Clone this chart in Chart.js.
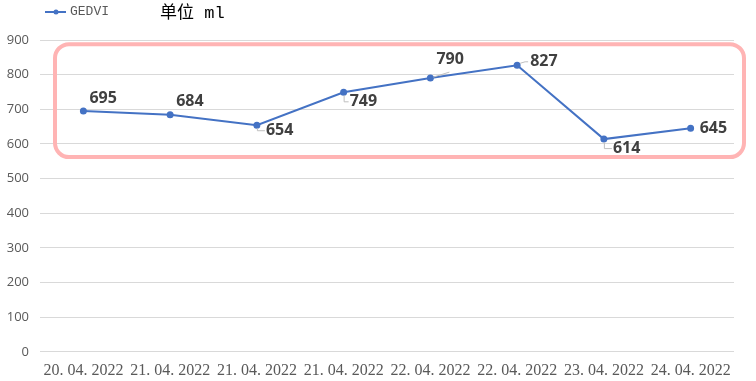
<!DOCTYPE html>
<html lang="zh">
<head>
  <meta charset="UTF-8">
  <title>GEDVI</title>
  <style>
    html, body { margin: 0; padding: 0; background: #fff; }
    #wrap { width: 756px; height: 381px; }
  </style>
  <script src="https://cdn.jsdelivr.net/npm/chart.js"></script>
</head>
<body>
  <div id="wrap"><canvas id="lineGedvi" width="756" height="381"></canvas></div>

  <script>
    // data
    const dates = ["20. 04. 2022", "21. 04. 2022", "21. 04. 2022", "21. 04. 2022",
                   "22. 04. 2022", "22. 04. 2022", "23. 04. 2022", "24. 04. 2022"];
    const gedvi = [695, 684, 654, 749, 790, 827, 614, 645];
    const yTicks = [0, 100, 200, 300, 400, 500, 600, 700, 800, 900];
    const seriesName = "GEDVI";
    const unitTitle = "单位 ml";

    const blue = "#4472c4";

    // label offsets from the point; lead = leader line style
    const labelPos = [
      { dx: 6,  dy: -13, lead: null },
      { dx: 6,  dy: -13, lead: null },
      { dx: 9,  dy: 5,   lead: "L" },
      { dx: 6,  dy: 9,   lead: "L" },
      { dx: 6,  dy: -19, lead: "diag" },
      { dx: 13, dy: -4,  lead: "up" },
      { dx: 9,  dy: 9,   lead: "L" },
      { dx: 9,  dy: 0,   lead: null }
    ];

    const extras = {
      id: "extras",
      afterDatasetsDraw(chart) {
        const ctx = chart.ctx;
        const meta = chart.getDatasetMeta(0);
        const ys = chart.scales.y;
        const area = chart.chartArea;

        // data labels
        ctx.save();
        ctx.font = "bold 16px 'Open Sans', 'Noto Sans', sans-serif";
        ctx.fillStyle = "#404040";
        ctx.textBaseline = "middle";
        ctx.textAlign = "left";
        meta.data.forEach((pt, i) => {
          const p = labelPos[i];
          const tx = pt.x + p.dx, ty = pt.y + p.dy;
          ctx.strokeStyle = "#bfbfbf";
          ctx.lineWidth = 1;
          ctx.beginPath();
          if (p.lead === "L") {
            ctx.moveTo(pt.x + 0.5, pt.y + 3);
            ctx.lineTo(pt.x + 0.5, ty + 0.5);
            ctx.lineTo(tx - 1, ty + 0.5);
          } else if (p.lead === "diag") {
            ctx.moveTo(pt.x + 3, pt.y - 1);
            ctx.lineTo(pt.x + 19, pt.y - 6);
          } else if (p.lead === "up") {
            ctx.moveTo(pt.x + 3, pt.y - 2);
            ctx.lineTo(pt.x + 8, ty + 0.5);
            ctx.lineTo(tx - 2, ty + 0.5);
          }
          ctx.stroke();
          ctx.fillText(gedvi[i], tx, ty);
        });
        ctx.restore();

        // highlight box around the series
        ctx.save();
        ctx.strokeStyle = "#ffb4b4";
        ctx.lineWidth = 4;
        ctx.beginPath();
        ctx.roundRect(area.left + 15, ys.getPixelForValue(888),
                      area.right - area.left - 5,
                      ys.getPixelForValue(562) - ys.getPixelForValue(888), 14);
        ctx.stroke();
        ctx.restore();
      },
      afterDraw(chart) {
        const ctx = chart.ctx;
        ctx.save();
        // legend
        ctx.strokeStyle = blue;
        ctx.fillStyle = blue;
        ctx.lineWidth = 2;
        ctx.beginPath();
        ctx.moveTo(45, 12);
        ctx.lineTo(66, 12);
        ctx.stroke();
        ctx.beginPath();
        ctx.arc(56, 12, 2.5, 0, Math.PI * 2);
        ctx.fill();
        ctx.fillStyle = "#595959";
        ctx.font = "13px 'Liberation Mono', monospace";
        ctx.textBaseline = "middle";
        ctx.fillText(seriesName, 70, 12);
        // unit title
        ctx.fillStyle = "#000";
        ctx.font = "17px 'Liberation Mono', 'Noto Sans CJK SC', monospace";
        ctx.fillText(unitTitle, 160, 13);
        ctx.restore();
      }
    };

    new Chart("lineGedvi", {
      type: "line",
      data: {
        labels: dates,
        datasets: [{
          label: seriesName,
          data: gedvi,
          borderColor: blue,
          backgroundColor: blue,
          borderWidth: 2,
          pointRadius: 2.5,
          pointHoverRadius: 2.5,
          tension: 0,
          fill: false
        }]
      },
      options: {
        responsive: false,
        animation: false,
        layout: { padding: { top: 40, right: 22, left: 0, bottom: -8 } },
        plugins: {
          legend: { display: false },
          tooltip: { enabled: false }
        },
        scales: {
          x: {
            offset: true,
            grid: { display: false, drawTicks: false },
            border: { display: false },
            ticks: {
              color: "#595959",
              maxRotation: 0,
              autoSkip: false,
              padding: 9,
              font: { family: "'Liberation Serif', serif", size: 16 }
            }
          },
          y: {
            min: 0,
            max: 900,
            afterBuildTicks: (axis) => { axis.ticks = yTicks.map(v => ({ value: v })); },
            afterFit: (axis) => { axis.width = 40; },
            grid: { color: "#d9d9d9", drawTicks: false },
            border: { display: false },
            ticks: {
              color: "#595959",
              padding: 11,
              font: { family: "'Open Sans', sans-serif", size: 13 }
            }
          }
        }
      },
      plugins: [extras]
    });
  </script>
</body>
</html>
